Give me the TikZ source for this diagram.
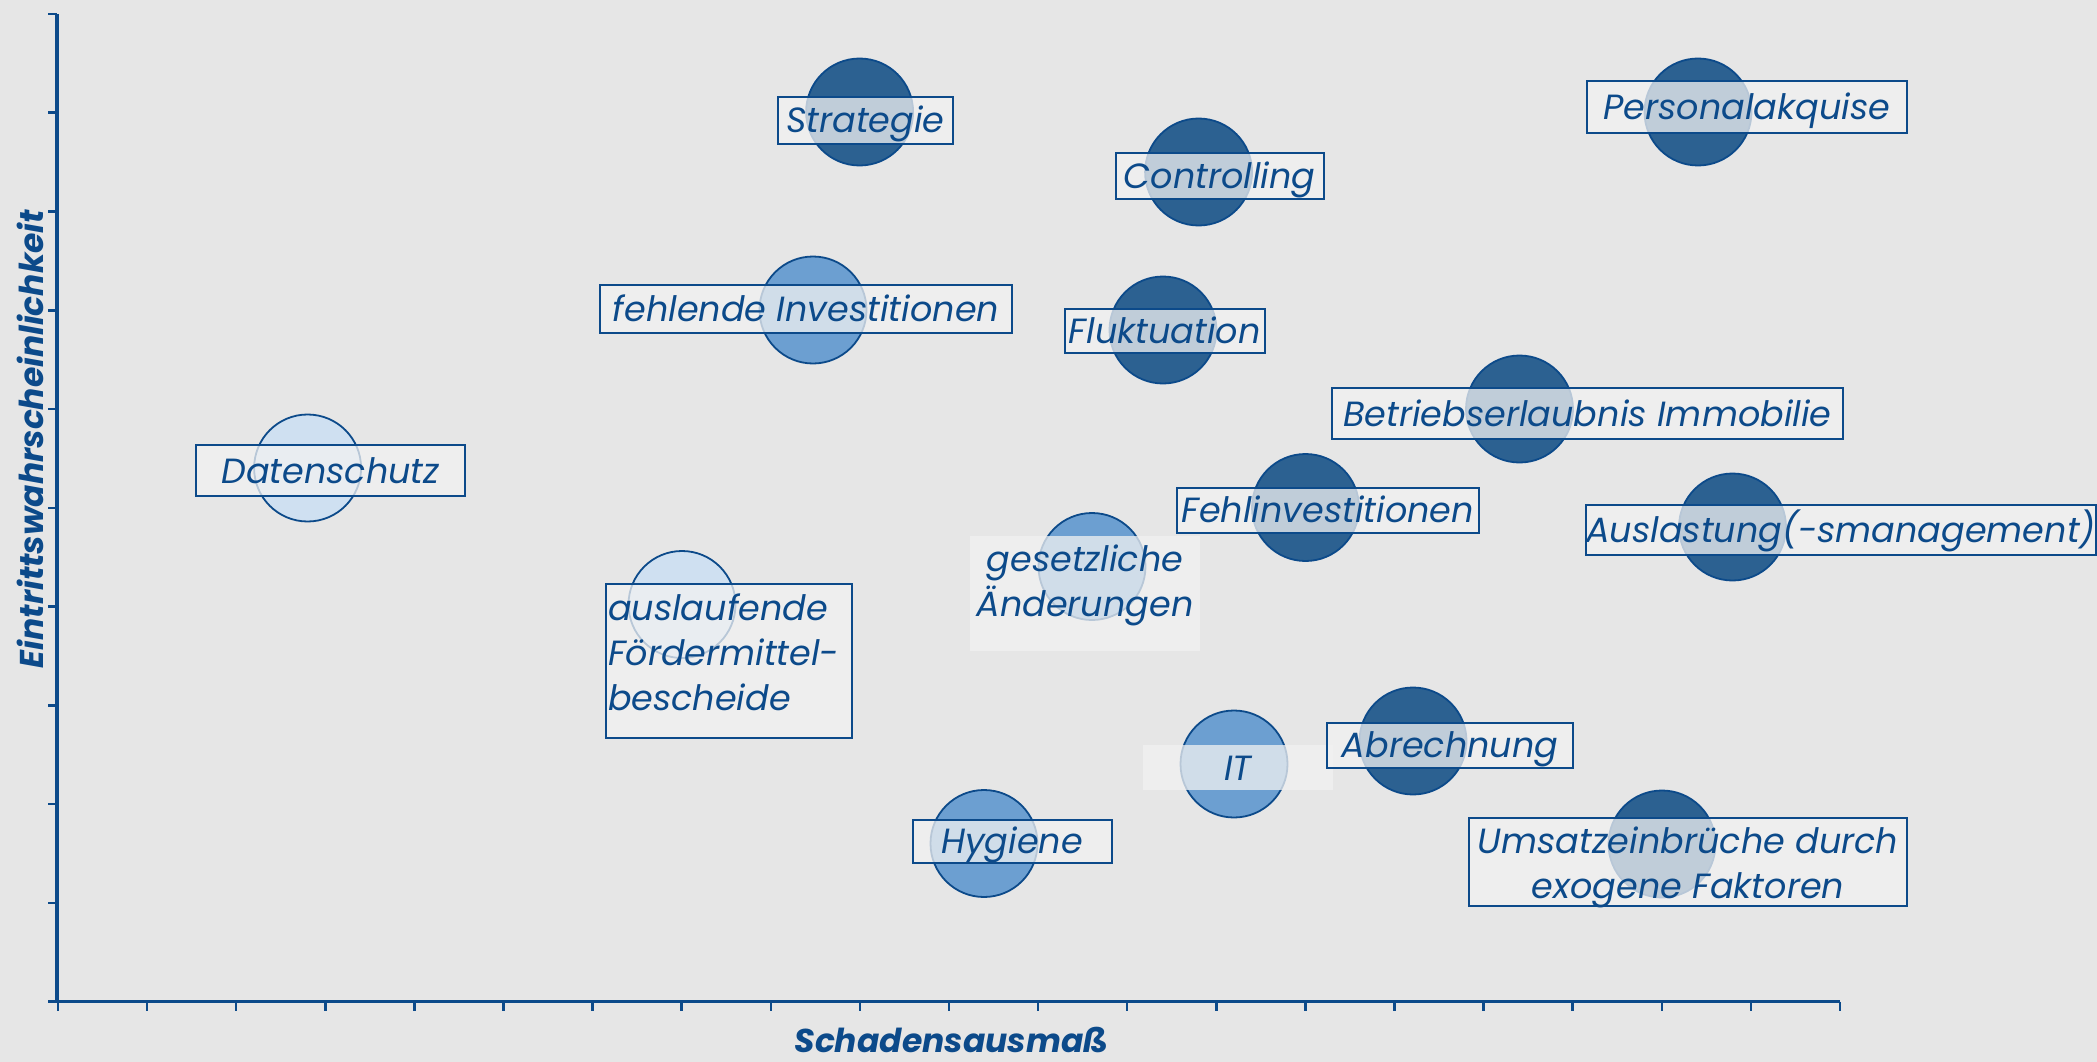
\documentclass[tikz,border=0pt]{standalone}
\usepackage{fontspec}
\setmainfont{Poppins}
\definecolor{bgc}{RGB}{230,230,230}
\definecolor{navy}{RGB}{12,74,138}
\definecolor{darkfill}{RGB}{44,97,145}
\definecolor{midfill}{RGB}{108,159,209}
\definecolor{lightfill}{RGB}{207,224,241}
\definecolor{boxfill}{RGB}{242,242,242}
\tikzset{
  riskc/.style={circle, minimum size=107pt, inner sep=0pt, draw=navy, line width=1.8pt},
  darkc/.style={riskc, fill=darkfill},
  midc/.style={riskc, fill=midfill},
  lightc/.style={riskc, fill=lightfill},
  lbl/.style={font=\fontsize{35}{45}\selectfont\itshape, text=navy, inner sep=0pt},
  oneline/.style={text height=31pt, text depth=6pt},
  lblbox/.style={lbl, oneline, draw=navy, line width=2pt, fill=boxfill, fill opacity=0.75, text opacity=1, align=center},
  emptybox/.style={draw=navy, line width=2pt, fill=boxfill, fill opacity=0.75, inner sep=0pt},
  lblplain/.style={lbl, fill=boxfill, fill opacity=0.75, text opacity=1, align=center},
  axisline/.style={draw=navy, line width=3.5pt},
  tickline/.style={draw=navy, line width=2.5pt},
  axlbl/.style={font=\fontsize{33}{40}\selectfont\bfseries\itshape, text=navy, inner sep=0pt}
}
\begin{document}
\begin{tikzpicture}[x=1pt, y=-1pt]
\fill[bgc] (0,0) rectangle (2097,1062);
\useasboundingbox (0,0) rectangle (2097,1062);

% axes
\foreach \k in {0,...,9} {
  \draw[tickline] (48,{14+\k*98.75}) -- (57,{14+\k*98.75});
}
\foreach \k in {0,...,20} {
  \draw[tickline] ({58+\k*89.1},1001.5) -- ({58+\k*89.1},1011);
}
\coordinate (ytop) at (57,14);
\coordinate (origin) at (57,1001.5);
\coordinate (xleft) at (48,1001.5);
\coordinate (xend) at (1840,1001.5);
\draw[axisline] (ytop) -- (origin);
\draw[axisline] (xleft) -- (xend);

\node[axlbl, rotate=90] (ylabel) at (30,439) {Eintrittswahrscheinlichkeit};
\node[axlbl] (xlabel) at (951,1040) {Schadensausmaß};

% circles
\node[darkc] (cStrat) at (859.6,112) {};
\node[darkc] (cContr) at (1198.6,172) {};
\node[midc] (cFehl) at (813,310) {};
\node[darkc] (cFluk) at (1163,330) {};
\node[darkc] (cBetr) at (1519.5,409) {};
\node[darkc] (cPers) at (1698,112) {};
\node[darkc] (cAusl) at (1732.5,527) {};
\node[darkc] (cFehlinv) at (1305.5,507.5) {};
\node[midc] (cGes) at (1092,566.5) {};
\node[lightc] (cFoerd) at (682,604.5) {};
\node[midc] (cIT) at (1234,764) {};
\node[darkc] (cAbr) at (1413,741) {};
\node[midc] (cHyg) at (984,843.5) {};
\node[darkc] (cUms) at (1662,844) {};
\node[lightc] (cDat) at (307.6,468) {};

% labels
\node[lblbox, minimum width=175pt, minimum height=47pt] (tStrat) at (865.5,120.5) {Strategie};
\node[lblbox, minimum width=208pt, minimum height=46pt] (tContr) at (1219.6,176) {Controlling};
\node[lblbox, minimum width=412pt, minimum height=48pt] (tFehl) at (806,309) {fehlende Investitionen};
\node[lblbox, minimum width=200pt, minimum height=44pt] (tFluk) at (1164.7,330.5) {Fluktuation};
\node[lblbox, minimum width=511pt, minimum height=51pt] (tBetr) at (1587.5,413.5) {Betriebserlaubnis Immobilie};
\node[lblbox, minimum width=320pt, minimum height=52pt] (tPers) at (1746.7,107) {Personalakquise};
\node[lblbox, minimum width=508pt, minimum height=50pt] (tAusl) at (1841,529.5) {Auslastung(-smanagement)};
\node[lblbox, minimum width=302pt, minimum height=45pt] (tFehlinv) at (1327.8,510.2) {Fehlinvestitionen};
\node[lblplain, minimum width=230pt, minimum height=115pt] (bGes) at (1085,593.4) {};
\node[lbl, align=center] (tGes) at (1085,585.5) {gesetzliche\\Änderungen};
\node[emptybox, minimum width=246pt, minimum height=154pt] (bFoerd) at (729,661) {};
\node[lbl, text width=246pt, align=left] (tFoerd) at (731,652) {auslaufende\\Fördermittel-\\bescheide};
\node[lblplain, oneline, minimum width=190pt, minimum height=45pt] (tIT) at (1238,767.5) {IT};
\node[lblbox, minimum width=246pt, minimum height=45pt] (tAbr) at (1450,745) {Abrechnung};
\node[lblbox, minimum width=199pt, minimum height=43pt] (tHyg) at (1012,841) {Hygiene};
\node[emptybox, minimum width=438pt, minimum height=88pt] (bUms) at (1688,862) {};
\node[lbl, align=center] (tUms) at (1688,867) {Umsatzeinbrüche durch\\exogene Faktoren};
\node[lblbox, minimum width=269pt, minimum height=51pt] (tDat) at (330.5,470.5) {Datenschutz};
\end{tikzpicture}
\end{document}
